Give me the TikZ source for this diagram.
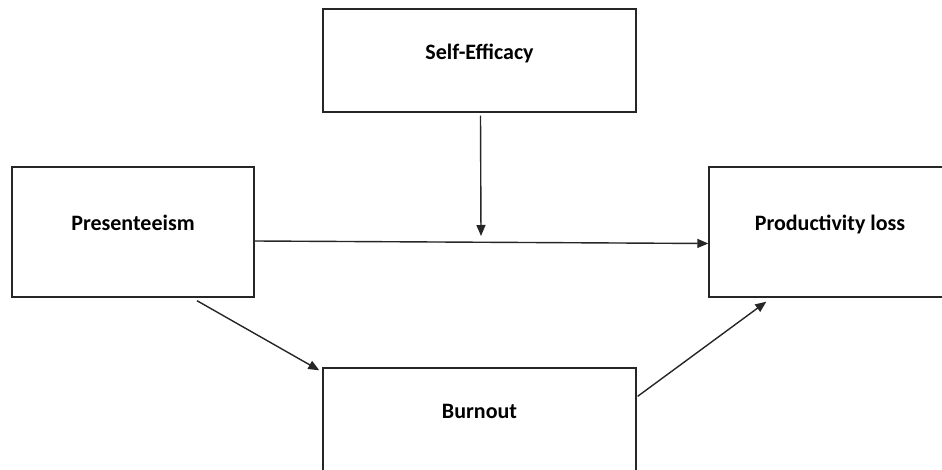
\documentclass[tikz,border=0pt]{standalone}
\usepackage{fontspec}
\setmainfont{Carlito}
\usetikzlibrary{arrows.meta}

\begin{document}
\begin{tikzpicture}[x=1pt,y=1pt,>={Triangle[length=11pt,width=9pt]},
  box/.style={draw=black!85,line width=1.4pt,inner sep=0pt,
    font=\fontsize{22}{26}\selectfont\bfseries,text height=15pt,text depth=17pt},
  link/.style={->,line width=1.4pt,draw=black!85,fill=black!85}]
  \useasboundingbox (0,0) rectangle (942,469);
  \clip (0,0) rectangle (942,469);
  % --- the four variables ---
  \node[box,minimum width=313pt,minimum height=103pt] (selfeff) at (479.5,408.5) {Self-Efficacy};
  \node[box,minimum width=242pt,minimum height=130pt] (present) at (133,237) {Presenteeism};
  \node[box,minimum width=242pt,minimum height=130pt] (prodloss) at (830,237) {Productivity loss};
  \node[box,minimum width=313pt,minimum height=103pt] (burnout) at (479.5,49.5) {Burnout};
  % --- paths ---
  \coordinate (moder) at (481,233);
  \draw[link] ([yshift=-9pt]present.east) -- ([yshift=-11.5pt]prodloss.west);
  \draw[link] ([yshift=-3pt,xshift=1pt]selfeff.south) -- (moder);
  \draw[link] ([xshift=64pt,yshift=-3pt]present.south) -- ([xshift=-3pt,yshift=-3pt]burnout.north west);
  \draw[link] ([xshift=1pt,yshift=-29pt]burnout.north east) -- ([xshift=58pt,yshift=-4pt]prodloss.south west);
\end{tikzpicture}
\end{document}
